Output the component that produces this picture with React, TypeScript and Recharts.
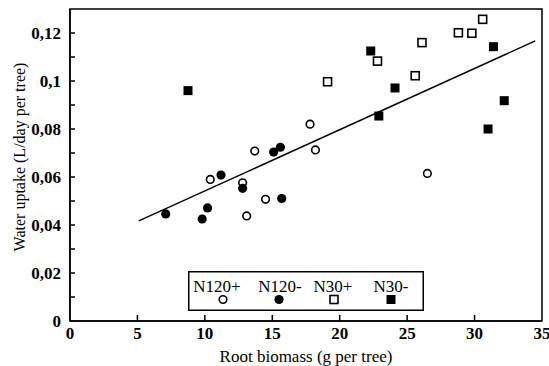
import {
    ScatterChart,
    Scatter,
    XAxis,
    YAxis,
    ReferenceLine,
    ReferenceArea,
    Legend
} from 'recharts';

const FONT = '"Liberation Serif", "Times New Roman", serif';

// root biomass (g per tree) and water uptake (L/day per tree), per treatment
const n120PlusX = [10.4, 12.8, 13.1, 13.7, 14.5, 17.8, 18.2, 26.5];
const n120PlusY = [0.059, 0.0576, 0.0438, 0.0708, 0.0507, 0.082, 0.0713, 0.0615];

const n120MinusX = [7.1, 9.8, 10.2, 11.2, 12.8, 15.1, 15.6, 15.7];
const n120MinusY = [0.0446, 0.0425, 0.0471, 0.0608, 0.0553, 0.0704, 0.0724, 0.051];

const n30PlusX = [19.1, 22.8, 25.6, 26.1, 28.8, 29.8, 30.6];
const n30PlusY = [0.0997, 0.1083, 0.1022, 0.116, 0.1201, 0.1199, 0.1257];

const n30MinusX = [8.75, 22.3, 24.1, 22.9, 31.4, 32.2, 31.0];
const n30MinusY = [0.096, 0.1125, 0.0971, 0.0854, 0.1143, 0.0918, 0.08];

// fitted regression line end points
const fitX = [5.1, 34.5];
const fitY = [0.0417, 0.1167];

const xTicks = [0, 5, 10, 15, 20, 25, 30, 35];
const yTicks = [0, 0.01, 0.02, 0.03, 0.04, 0.05, 0.06, 0.07, 0.08, 0.09, 0.1, 0.11, 0.12];
const yLabelled = [0, 0.02, 0.04, 0.06, 0.08, 0.1, 0.12];

const legendNames = ['N120+', 'N120-', 'N30+', 'N30-'];

const toPoints = (xs: number[], ys: number[]) => xs.map((x, i) => ({ x, y: ys[i] }));

const OpenCircle = (p: any) => (
    <circle cx={p.cx} cy={p.cy} r={3.8} fill="#fff" stroke="#000" strokeWidth={1.6} />
);
const FilledCircle = (p: any) => <circle cx={p.cx} cy={p.cy} r={4.6} fill="#000" />;
const OpenSquare = (p: any) => (
    <rect x={p.cx - 4} y={p.cy - 4} width={8} height={8} fill="#fff" stroke="#000" strokeWidth={1.6} />
);
const FilledSquare = (p: any) => (
    <rect x={p.cx - 4.5} y={p.cy - 4.5} width={9} height={9} fill="#000" />
);

const tickText = { fontFamily: FONT, fontSize: 17, fontWeight: 700 };

const XTick = ({ x, y, payload }: any) => {
    const v = payload.value;
    return (
        <g>
            {v > 0 && v < 35 && <line x1={x} x2={x} y1={y} y2={y - 6} stroke="#000" strokeWidth={1.5} />}
            <text x={x} y={y + 18} textAnchor="middle" fill="#000" style={tickText}>
                {v}
            </text>
        </g>
    );
};

const YTick = ({ x, y, payload }: any) => {
    const v = payload.value;
    const labelled = yLabelled.includes(v);
    return (
        <g>
            {v > 0 && <line x1={x} x2={x + 5} y1={y} y2={y} stroke="#000" strokeWidth={1.5} />}
            {labelled && (
                <text x={x - 9} y={y + 6} textAnchor="end" fill="#000" style={tickText}>
                    {String(v).replace('.', ',')}
                </text>
            )}
        </g>
    );
};

const markerFor = (i: number, cx: number, cy: number) => {
    if (i === 0) return <OpenCircle cx={cx} cy={cy} />;
    if (i === 1) return <FilledCircle cx={cx} cy={cy} />;
    if (i === 2) return <OpenSquare cx={cx} cy={cy} />;
    return <FilledSquare cx={cx} cy={cy} />;
};

const textPos = [29, 92, 145, 203];
const markPos = [35, 91, 146, 203];

const LegendBox = () => (
    <svg width={236} height={40} style={{ display: 'block' }}>
        <rect x={0.75} y={0.75} width={234.5} height={38.5} fill="#fff" stroke="#000" strokeWidth={1.5} />
        {legendNames.map((name, i) => (
            <g key={name}>
                <text
                    x={textPos[i]}
                    y={21}
                    textAnchor="middle"
                    fill="#000"
                    style={{ fontFamily: FONT, fontSize: 17 }}
                >
                    {name}
                </text>
                {markerFor(i, markPos[i], 28.5)}
            </g>
        ))}
    </svg>
);

export default function App() {
    return (
        <div style={{ position: 'absolute', left: 0, top: 0, width: 549, height: 366, background: '#fff' }}>
            <ScatterChart width={549} height={366} margin={{ top: 9, right: 7, bottom: 0, left: 0 }}>
                <XAxis
                    type="number"
                    dataKey="x"
                    domain={[0, 35]}
                    ticks={xTicks}
                    interval={0}
                    height={45}
                    tickSize={0}
                    tickMargin={0}
                    tickLine={false}
                    axisLine={{ stroke: '#000', strokeWidth: 1.5 }}
                    tick={<XTick />}
                    label={{
                        value: 'Root biomass (g per tree)',
                        position: 'insideBottom',
                        offset: 4,
                        style: { fontFamily: FONT, fontSize: 17 },
                        fill: '#000'
                    }}
                />
                <YAxis
                    type="number"
                    dataKey="y"
                    domain={[0, 0.13]}
                    ticks={yTicks}
                    interval={0}
                    width={70}
                    tickSize={0}
                    tickMargin={0}
                    tickLine={false}
                    axisLine={{ stroke: '#000', strokeWidth: 1.5 }}
                    tick={<YTick />}
                    label={{
                        value: 'Water uptake (L/day per tree)',
                        angle: -90,
                        position: 'insideLeft',
                        offset: 19,
                        dy: -8,
                        style: { textAnchor: 'middle', fontFamily: FONT, fontSize: 16 },
                        fill: '#000'
                    }}
                />
                <ReferenceArea x1={0} x2={35} y1={0} y2={0.13} fill="none" stroke="#000" strokeWidth={1.5} />
                <ReferenceLine
                    segment={[
                        { x: fitX[0], y: fitY[0] },
                        { x: fitX[1], y: fitY[1] }
                    ]}
                    stroke="#000"
                    strokeWidth={1.5}
                />
                <Scatter data={toPoints(n120PlusX, n120PlusY)} shape={OpenCircle} isAnimationActive={false} />
                <Scatter data={toPoints(n120MinusX, n120MinusY)} shape={FilledCircle} isAnimationActive={false} />
                <Scatter data={toPoints(n30PlusX, n30PlusY)} shape={OpenSquare} isAnimationActive={false} />
                <Scatter data={toPoints(n30MinusX, n30MinusY)} shape={FilledSquare} isAnimationActive={false} />
                <Legend
                    layout="vertical"
                    align="center"
                    verticalAlign="middle"
                    content={<LegendBox />}
                    wrapperStyle={{ left: 188, top: 271, width: 236, height: 40 }}
                />
            </ScatterChart>
        </div>
    );
}
